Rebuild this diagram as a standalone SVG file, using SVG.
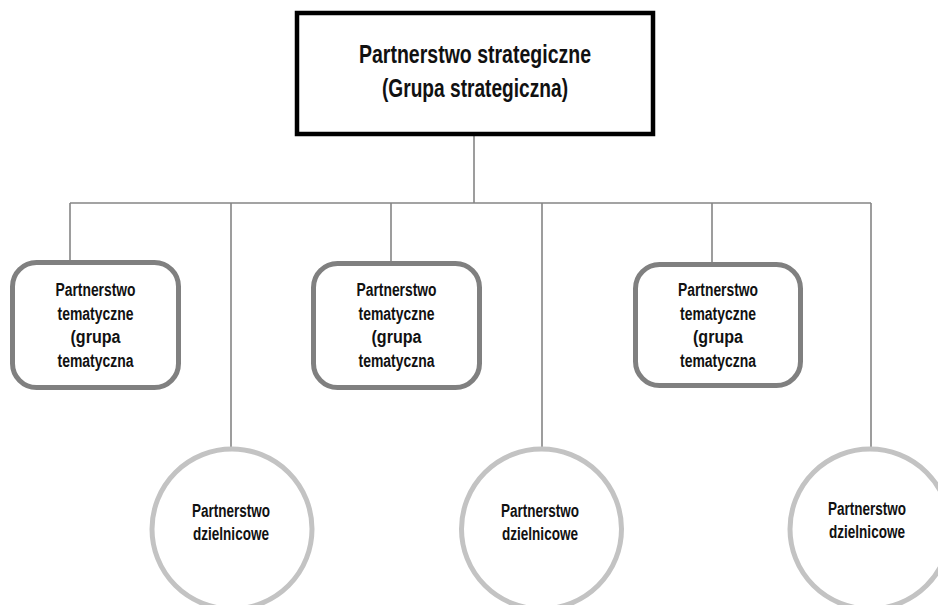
<svg xmlns="http://www.w3.org/2000/svg" width="938" height="605" viewBox="0 0 938 605">
<style>
.conn{stroke:#858585;stroke-width:1.6;fill:none}
.top{fill:#fff;stroke:#000;stroke-width:4.5}
.theme{fill:#fff;stroke:#808080;stroke-width:5}
.dist{fill:#fff;stroke:#c3c3c3;stroke-width:5}
text{font-family:"Liberation Sans",Arial,sans-serif;font-weight:bold;fill:#111;text-anchor:middle}
.t1{font-size:25.5px}
.t2{font-size:17.5px}
</style>
<rect width="938" height="605" fill="#fff"/>
<g id="connectors">
<path class="conn" d="M474 136V203M70 203H871M70 203V260M231 203V447M391 203V261M542 203V447M712 203V262M871 203V447"/>
</g>
<g id="strategic">
<rect class="top" x="297" y="13" width="356" height="121"/>
<text class="t1" x="475" y="63" textLength="232" lengthAdjust="spacingAndGlyphs">Partnerstwo strategiczne</text>
<text class="t1" x="475" y="97" textLength="186" lengthAdjust="spacingAndGlyphs">(Grupa strategiczna)</text>
</g>
<g id="theme1">
<rect class="theme" x="12.5" y="262.5" width="166" height="125" rx="24"/>
<text class="t2" x="95.5" y="296" textLength="80" lengthAdjust="spacingAndGlyphs">Partnerstwo</text>
<text class="t2" x="95.5" y="320" textLength="76" lengthAdjust="spacingAndGlyphs">tematyczne</text>
<text class="t2" x="95.5" y="343" textLength="50" lengthAdjust="spacingAndGlyphs">(grupa</text>
<text class="t2" x="95.5" y="367" textLength="76" lengthAdjust="spacingAndGlyphs">tematyczna</text>
</g>
<g id="theme2">
<rect class="theme" x="313.5" y="263.5" width="166" height="124" rx="24"/>
<text class="t2" x="396.5" y="296" textLength="80" lengthAdjust="spacingAndGlyphs">Partnerstwo</text>
<text class="t2" x="396.5" y="320" textLength="76" lengthAdjust="spacingAndGlyphs">tematyczne</text>
<text class="t2" x="396.5" y="343" textLength="50" lengthAdjust="spacingAndGlyphs">(grupa</text>
<text class="t2" x="396.5" y="367" textLength="76" lengthAdjust="spacingAndGlyphs">tematyczna</text>
</g>
<g id="theme3">
<rect class="theme" x="635.5" y="264.5" width="165" height="121" rx="24"/>
<text class="t2" x="718" y="296" textLength="80" lengthAdjust="spacingAndGlyphs">Partnerstwo</text>
<text class="t2" x="718" y="320" textLength="76" lengthAdjust="spacingAndGlyphs">tematyczne</text>
<text class="t2" x="718" y="343" textLength="50" lengthAdjust="spacingAndGlyphs">(grupa</text>
<text class="t2" x="718" y="367" textLength="76" lengthAdjust="spacingAndGlyphs">tematyczna</text>
</g>
<g id="district1">
<circle class="dist" cx="232" cy="529" r="80"/>
<text class="t2" x="231" y="517" textLength="78" lengthAdjust="spacingAndGlyphs">Partnerstwo</text>
<text class="t2" x="231" y="540" textLength="76" lengthAdjust="spacingAndGlyphs">dzielnicowe</text>
</g>
<g id="district2">
<circle class="dist" cx="541.5" cy="529" r="80"/>
<text class="t2" x="540" y="517" textLength="78" lengthAdjust="spacingAndGlyphs">Partnerstwo</text>
<text class="t2" x="540" y="540" textLength="76" lengthAdjust="spacingAndGlyphs">dzielnicowe</text>
</g>
<g id="district3">
<circle class="dist" cx="870" cy="529" r="80"/>
<text class="t2" x="867" y="515" textLength="78" lengthAdjust="spacingAndGlyphs">Partnerstwo</text>
<text class="t2" x="867" y="538" textLength="76" lengthAdjust="spacingAndGlyphs">dzielnicowe</text>
</g>
</svg>
